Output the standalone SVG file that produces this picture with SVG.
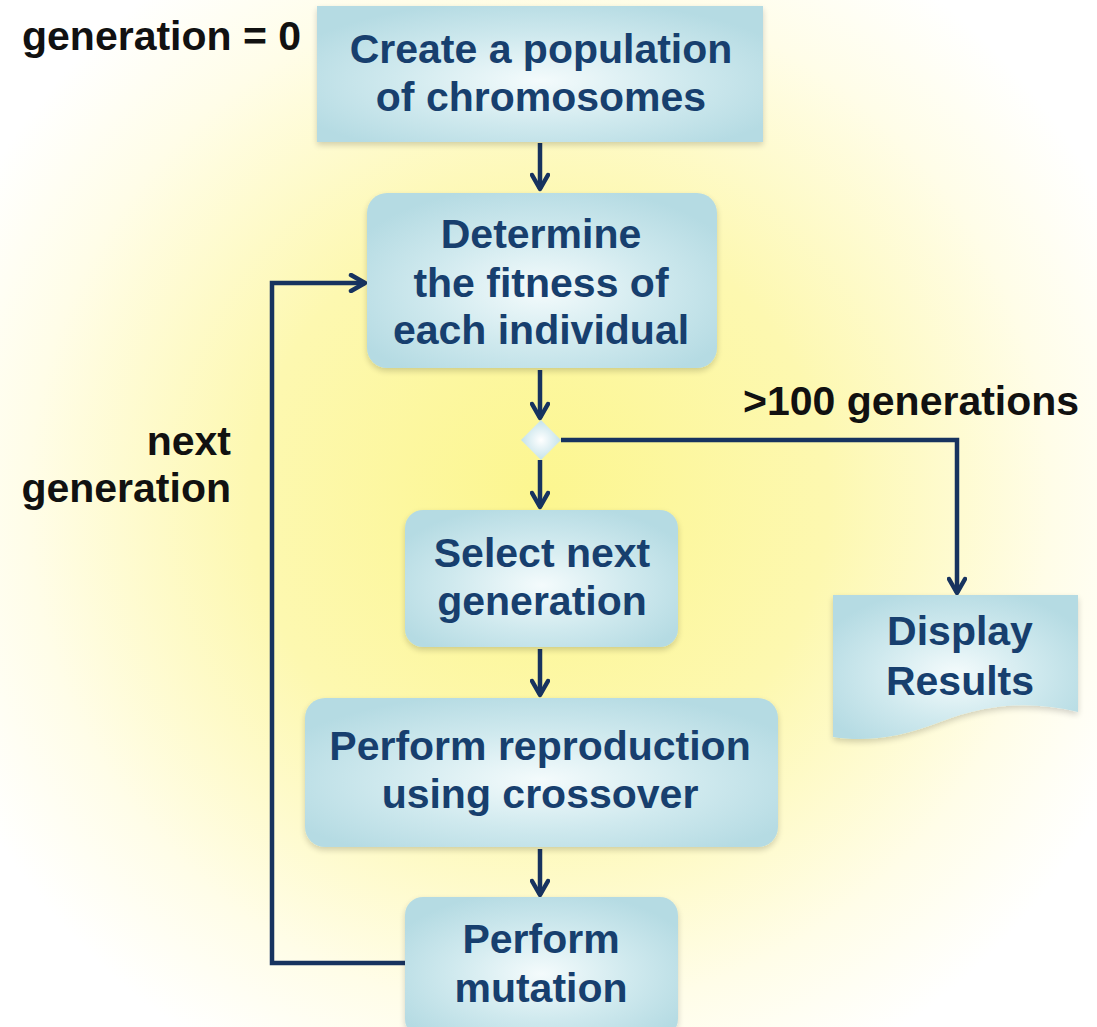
<svg xmlns="http://www.w3.org/2000/svg" width="1097" height="1027" viewBox="0 0 1097 1027">
  <defs>
    <radialGradient id="bg" cx="540" cy="500" r="640" gradientUnits="userSpaceOnUse">
      <stop offset="0" stop-color="#fcf68f"/>
      <stop offset="0.45" stop-color="#fdf8b0"/>
      <stop offset="0.8" stop-color="#fffde8"/>
      <stop offset="1" stop-color="#ffffff"/>
    </radialGradient>
    <radialGradient id="boxfill" cx="0.5" cy="0.55" r="0.6">
      <stop offset="0" stop-color="#f4fbfc"/>
      <stop offset="0.55" stop-color="#cfe9ee"/>
      <stop offset="1" stop-color="#b5dbe3"/>
    </radialGradient>
    <radialGradient id="diafill" cx="0.5" cy="0.5" r="0.6">
      <stop offset="0" stop-color="#ffffff"/>
      <stop offset="1" stop-color="#b9dde6"/>
    </radialGradient>
    <filter id="shadow" x="-10%" y="-10%" width="120%" height="125%">
      <feGaussianBlur in="SourceAlpha" stdDeviation="3"/>
      <feOffset dx="0" dy="3" result="b"/>
      <feComponentTransfer><feFuncA type="linear" slope="0.18"/></feComponentTransfer>
      <feMerge><feMergeNode/><feMergeNode in="SourceGraphic"/></feMerge>
    </filter>
    <marker id="arr" viewBox="0 0 20 20" refX="17" refY="10" markerWidth="20" markerHeight="20" markerUnits="userSpaceOnUse" orient="auto">
      <path d="M3,2 L17,10 L3,18" fill="none" stroke="#17335f" stroke-width="4.5" stroke-linecap="round" stroke-linejoin="round"/>
    </marker>
    <style>
      .box { fill: url(#boxfill); filter: url(#shadow); }
      .bt { font-family: "Liberation Sans", Arial, sans-serif; font-weight: bold; font-size: 41px; fill: #173f6e; text-anchor: middle; }
      .lbl { font-family: "Liberation Sans", Arial, sans-serif; font-weight: bold; font-size: 41px; fill: #111111; }
      .con { fill: none; stroke: #17335f; stroke-width: 4.5; }
    </style>
  </defs>

  <rect x="0" y="0" width="1097" height="1027" fill="url(#bg)"/>

  <g id="connectors">
    <line class="con" x1="540" y1="143" x2="540" y2="189" marker-end="url(#arr)"/>
    <line class="con" x1="540" y1="370" x2="540" y2="418" marker-end="url(#arr)"/>
    <line class="con" x1="540" y1="460" x2="540" y2="507" marker-end="url(#arr)"/>
    <line class="con" x1="540" y1="649" x2="540" y2="695" marker-end="url(#arr)"/>
    <line class="con" x1="540" y1="849" x2="540" y2="895" marker-end="url(#arr)"/>
    <polyline class="con" points="561,440 957,440 957,593" marker-end="url(#arr)"/>
    <polyline class="con" points="405,963 272,963 272,283 365,283" marker-end="url(#arr)"/>
  </g>

  <g id="label-gen0">
    <text class="lbl" x="22" y="50">generation = 0</text>
  </g>
  <g id="label-next">
    <text class="lbl" x="231" y="455" text-anchor="end">next</text>
    <text class="lbl" x="231" y="502" text-anchor="end">generation</text>
  </g>
  <g id="label-100">
    <text class="lbl" x="743" y="415">&gt;100 generations</text>
  </g>

  <g id="node-create">
    <rect class="box" x="317" y="6" width="446" height="136"/>
    <text class="bt" x="541" y="63">Create a population</text>
    <text class="bt" x="541" y="111">of chromosomes</text>
  </g>

  <g id="node-fitness">
    <rect class="box" x="367" y="193" width="350" height="175" rx="20"/>
    <text class="bt" x="541" y="248">Determine</text>
    <text class="bt" x="541" y="297">the fitness of</text>
    <text class="bt" x="541" y="344">each individual</text>
  </g>

  <g id="node-decision">
    <polygon points="541,420 561,440 541,460 521,440" fill="url(#diafill)"/>
  </g>

  <g id="node-select">
    <rect class="box" x="405" y="510" width="273" height="137" rx="18"/>
    <text class="bt" x="542" y="567">Select next</text>
    <text class="bt" x="542" y="615">generation</text>
  </g>

  <g id="node-display">
    <path class="box" d="M833,595 H1078 V712 C1030,700 985,704 940,722 C900,738 865,742 833,737 Z"/>
    <text class="bt" x="960" y="645">Display</text>
    <text class="bt" x="960" y="695">Results</text>
  </g>

  <g id="node-crossover">
    <rect class="box" x="305" y="698" width="473" height="149" rx="20"/>
    <text class="bt" x="540" y="760">Perform reproduction</text>
    <text class="bt" x="540" y="808">using crossover</text>
  </g>

  <g id="node-mutation">
    <rect class="box" x="405" y="897" width="273" height="140" rx="18"/>
    <text class="bt" x="541" y="953">Perform</text>
    <text class="bt" x="541" y="1002">mutation</text>
  </g>
</svg>
